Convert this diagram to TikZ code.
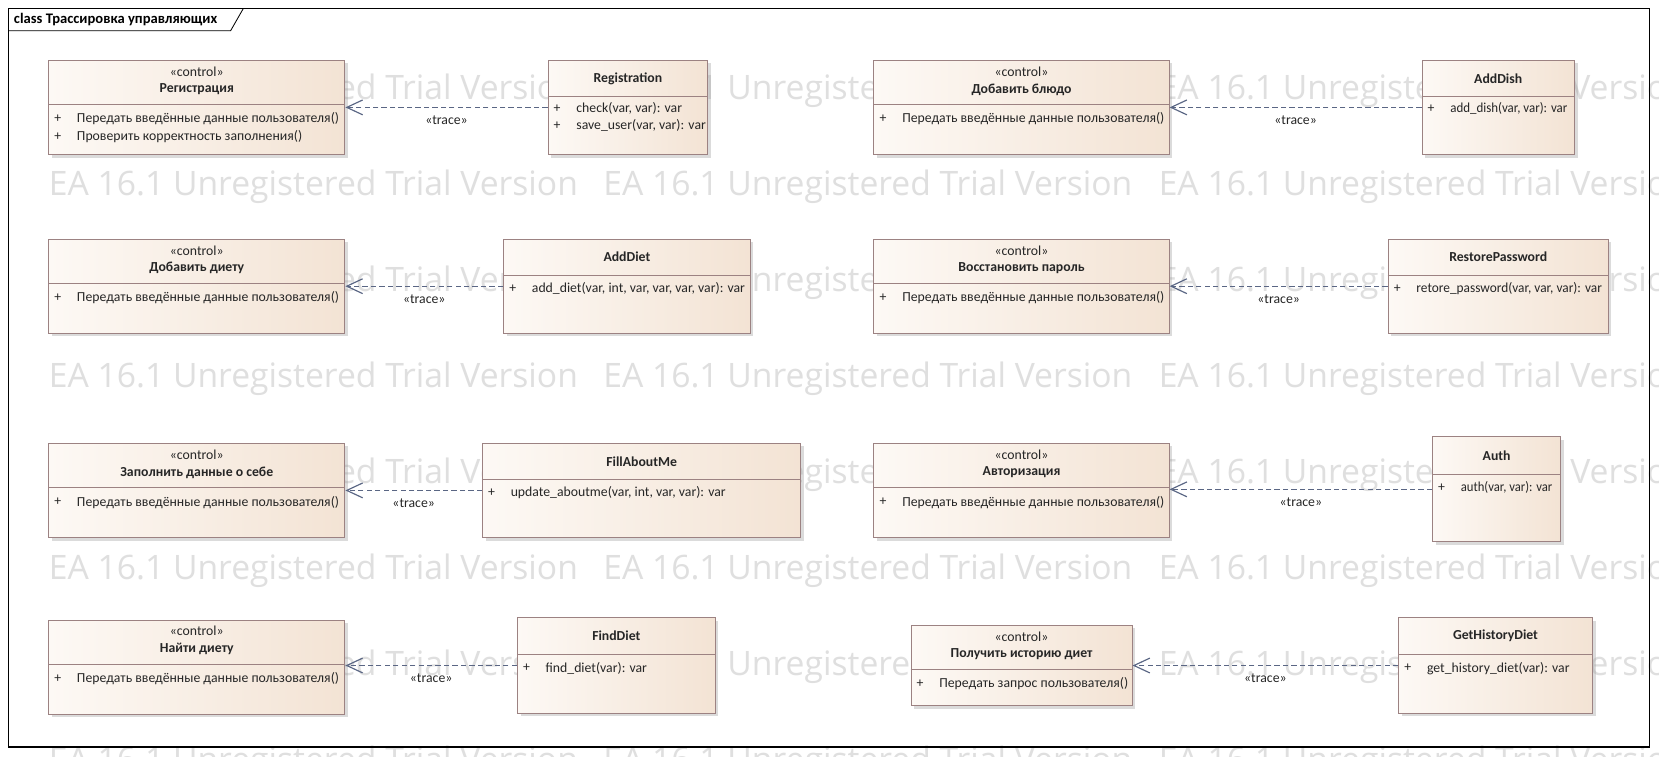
\documentclass[tikz,border=0pt]{standalone}
\usepackage{fontspec}
\usepackage{graphicx}
\setmainfont{Carlito}
\newfontfamily\wmfont{Open Sans}
\usetikzlibrary{arrows.meta,calc,shadows}

\definecolor{boxborder}{HTML}{9C8282}
\definecolor{boxleft}{HTML}{FDF9F5}
\definecolor{boxright}{HTML}{F3E3D4}
\definecolor{arrowcol}{HTML}{5A6684}
\definecolor{txt}{HTML}{262626}
\definecolor{wmcol}{HTML}{DFDFDF}

\tikzset{
  clsbox/.style={draw=boxborder, line width=0.9pt, left color=boxleft, right color=boxright,
    inner sep=0pt, drop shadow={shadow xshift=3pt, shadow yshift=-3pt, fill=black!40, opacity=0.35}},
  clsline/.style={draw=boxborder, line width=0.9pt},
  ster/.style={font=\fontsize{13}{15}\selectfont, text=txt, inner sep=0pt},
  cname/.style={font=\bfseries\fontsize{13}{15}\selectfont, text=txt, inner sep=0pt},
  attrtext/.style={font=\fontsize{13}{15}\selectfont, text=txt, inner sep=0pt, anchor=west},
  plussign/.style={font=\fontsize{13}{15}\selectfont, text=txt, inner sep=0pt},
  trace/.style={draw=arrowcol, line width=1.1pt, dash pattern=on 5pt off 3pt,
    -{Straight Barb[length=15pt,width=14pt,line width=1.1pt]}},
  lbl/.style={font=\fontsize{13}{15}\selectfont, text=txt, inner sep=0pt},
  wm/.style={text=wmcol, inner sep=0pt, anchor=west, font=\wmfont},
}

\newcommand\clsnode[5]{%
  \node[clsbox, minimum width={#4-#2}, minimum height={#5-#3}] (#1) at ({(#2+#4)/2},{(#3+#5)/2}) {};}
\newcommand\ctrlbox[6]{%
  \clsnode{#1}{#2}{#3}{#4}{#5}
  \node[ster] (#1-st) at ($(#1.north)+(0,11)$) {«control»};
  \node[cname] (#1-nm) at ($(#1.north)+(0,28)$) {#6};
  \draw[clsline] ($(#1.north west)+(0,42)$) coordinate (#1-dl) -- ($(#1.north east)+(0,42)$) coordinate (#1-d);}
\newcommand\implbox[7]{%
  \clsnode{#1}{#2}{#3}{#4}{#5}
  \node[cname] (#1-nm) at ($(#1.north)+(0,#7/2)$) {#6};
  \draw[clsline] ($(#1.north west)+(0,#7)$) coordinate (#1-dl) -- ($(#1.north east)+(0,#7)$) coordinate (#1-d);}
\newcommand\attrline[3]{%
  \node[plussign] (#1-p#2) at ($(#1.north west)+(9,#2)$) {+};
  \node[attrtext] (#1-a#2) at ($(#1.north west)+(27,#2)$) {#3};}

\begin{document}
\begin{tikzpicture}[x=1pt,y=-1pt]
\useasboundingbox (0,0) rectangle (1568,715);
\clip (0,0) rectangle (1568,715);
\fill[white] (0,0) rectangle (1568,715);

% watermark
\foreach \r in {0,...,7}{
  \foreach \c in {46,570,1095}{
    \node[wm] (wm-\r-\c) at (\c,{86+90.7*\r}) {\resizebox{500pt}{!}{EA 16.1 Unregistered Trial Version}};
  }
}

% frame
\draw[black, line width=1pt] (8,8) rectangle (1559,706);
\draw[black, line width=0.8pt] (8,29) -- (218,29) -- (230,8);
\node[anchor=west, font=\bfseries\fontsize{13.8}{15}\selectfont, inner sep=0pt] (title) at (13,18.5) {class Трассировка управляющих};

% row 1
\ctrlbox{reg}{46}{57}{326}{146}{Регистрация}
\attrline{reg}{56}{Передать введённые данные пользователя()}
\attrline{reg}{73}{Проверить корректность заполнения()}
\implbox{regi}{518}{57}{669}{146}{Registration}{35}
\attrline{regi}{46}{check(var, var): var}
\attrline{regi}{62}{save\_user(var, var): var}

\ctrlbox{dish}{826}{57}{1105}{146}{Добавить блюдо}
\attrline{dish}{56}{Передать введённые данные пользователя()}
\implbox{dishi}{1344}{57}{1488}{146}{AddDish}{35}
\attrline{dishi}{46}{\scalebox{0.94}[1]{add\_dish(var, var): var}}

% row 2
\ctrlbox{diet}{46}{226}{326}{315}{Добавить диету}
\attrline{diet}{56}{Передать введённые данные пользователя()}
\implbox{dieti}{476}{226}{709}{315}{AddDiet}{35}
\attrline{dieti}{47}{add\_diet(var, int, var, var, var, var): var}

\ctrlbox{pass}{826}{226}{1105}{315}{Восстановить пароль}
\attrline{pass}{56}{Передать введённые данные пользователя()}
\implbox{passi}{1312}{226}{1520}{315}{RestorePassword}{35}
\attrline{passi}{47}{\scalebox{0.97}[1]{retore\_password(var, var, var): var}}

% row 3
\ctrlbox{about}{46}{419}{326}{508}{Заполнить данные о себе}
\attrline{about}{56}{Передать введённые данные пользователя()}
\implbox{abouti}{456}{419}{757}{508}{FillAboutMe}{35}
\attrline{abouti}{47}{update\_aboutme(var, int, var, var): var}

\ctrlbox{auth}{826}{419}{1105}{508}{Авторизация}
\attrline{auth}{56}{Передать введённые данные пользователя()}
\implbox{authi}{1354}{413}{1475}{512}{Auth}{36}
\attrline{authi}{48}{\scalebox{0.92}[1]{auth(var, var): var}}

% row 4
\ctrlbox{find}{46}{586}{326}{675}{Найти диету}
\attrline{find}{56}{Передать введённые данные пользователя()}
\implbox{findi}{489}{584}{676}{674}{FindDiet}{35}
\attrline{findi}{48}{find\_diet(var): var}

\ctrlbox{hist}{861}{591}{1070}{667}{Получить историю диет}
\attrline{hist}{56}{Передать запрос пользователя()}
\implbox{histi}{1322}{584}{1505}{674}{GetHistoryDiet}{35}
\attrline{histi}{48}{get\_history\_diet(var): var}

% trace connectors
\draw[trace] (regi.west) -- (regi.west -| reg.east) node[lbl, midway, yshift=-12pt] {«trace»};
\draw[trace] (dishi.west) -- (dishi.west -| dish.east) node[lbl, midway, yshift=-12pt] {«trace»};
\draw[trace] (dieti.west) -- (dieti.west -| diet.east) node[lbl, midway, yshift=-12pt] {«trace»};
\draw[trace] (passi.west) -- (passi.west -| pass.east) node[lbl, midway, yshift=-12pt] {«trace»};
\draw[trace] (abouti.west) -- (abouti.west -| about.east) node[lbl, midway, yshift=-12pt] {«trace»};
\draw[trace] (authi.west) -- (authi.west -| auth.east) node[lbl, midway, yshift=-12pt] {«trace»};
\draw[trace] (findi.west) -- (findi.west -| find.east) node[lbl, midway, yshift=-12pt] {«trace»};
\draw[trace] (histi.west) -- (histi.west -| hist.east) node[lbl, midway, yshift=-12pt] {«trace»};
\end{tikzpicture}
\end{document}
